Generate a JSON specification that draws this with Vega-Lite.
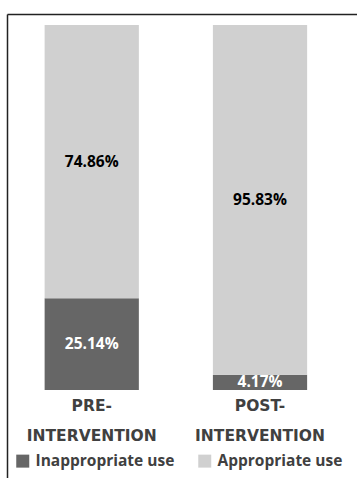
{
  "$schema": "https://vega.github.io/schema/vega-lite/v6.json",
  "width": 350,
  "height": 464,
  "padding": {"top": 14, "left": 7, "right": 0, "bottom": 0},
  "background": "white",
  "view": {"stroke": null},
  "data": {"values": [
    {"phase": "PRE-INTERVENTION", "use": "Inappropriate use", "pct": 25.14},
    {"phase": "PRE-INTERVENTION", "use": "Appropriate use", "pct": 74.86},
    {"phase": "POST-INTERVENTION", "use": "Inappropriate use", "pct": 4.17},
    {"phase": "POST-INTERVENTION", "use": "Appropriate use", "pct": 95.83}
  ]},
  "transform": [
    {"stack": "pct", "groupby": ["phase"], "sort": [{"field": "use", "order": "descending"}], "as": ["y0", "y1"]},
    {"calculate": "(datum.y0 + datum.y1) / 2", "as": "ymid"},
    {"calculate": "format(datum.pct, '.2f') + '%'", "as": "label"}
  ],
  "encoding": {
    "x": {
      "field": "phase",
      "type": "nominal",
      "sort": ["PRE-INTERVENTION", "POST-INTERVENTION"],
      "scale": {"paddingInner": 0.44, "paddingOuter": 0.26, "align": 0.43}
    }
  },
  "layer": [
    {
      "mark": {"type": "bar"},
      "encoding": {
        "x": {
          "field": "phase",
          "type": "nominal",
          "sort": ["PRE-INTERVENTION", "POST-INTERVENTION"],
          "axis": {
            "orient": "bottom",
            "offset": -88,
            "domain": false,
            "ticks": false,
            "labelAngle": 0,
            "title": null,
            "labelFont": "DejaVu Sans",
            "labelFontWeight": "bold",
            "labelFontSize": 15.5,
            "labelColor": "#404040",
            "labelLineHeight": 30,
            "labelPadding": 8,
            "labelExpr": "split(replace(datum.label, '-', '- '), ' ')"
          }
        },
        "y": {
          "field": "y0",
          "type": "quantitative",
          "scale": {"domain": [-24.1, 103], "nice": false, "zero": false},
          "axis": {"labels": false, "ticks": false, "grid": false, "title": null, "domain": true, "domainColor": "#222222", "domainWidth": 1.5}
        },
        "y2": {"field": "y1"},
        "color": {
          "field": "use",
          "type": "nominal",
          "scale": {"domain": ["Inappropriate use", "Appropriate use"], "range": ["#666666", "#d0d0d0"]},
          "legend": {
            "title": null,
            "orient": "bottom-left",
            "direction": "horizontal",
            "offset": 8,
            "symbolType": "square",
            "symbolSize": 169,
            "symbolStrokeWidth": 0,
            "labelFont": "Open Sans",
            "labelFontWeight": "bold",
            "labelFontSize": 15.5,
            "labelColor": "#404040",
            "labelOffset": 5,
            "columnPadding": 22,
            "labelLimit": 300
          }
        }
      }
    },
    {
      "mark": {"type": "text", "font": "Open Sans", "fontWeight": "bold", "fontSize": 15.5, "baseline": "middle"},
      "encoding": {
        "x": {
          "field": "phase",
          "type": "nominal",
          "sort": ["PRE-INTERVENTION", "POST-INTERVENTION"],
          "axis": {"orient": "top", "labels": false, "ticks": false, "title": null, "domain": true, "domainColor": "#222222", "domainWidth": 1.5}
        },
        "y": {"field": "ymid", "type": "quantitative"},
        "text": {"field": "label"},
        "color": {
          "condition": {"test": "datum.use == 'Inappropriate use'", "value": "white"},
          "value": "black"
        }
      }
    }
  ],
  "resolve": {"axis": {"x": "independent"}}
}
